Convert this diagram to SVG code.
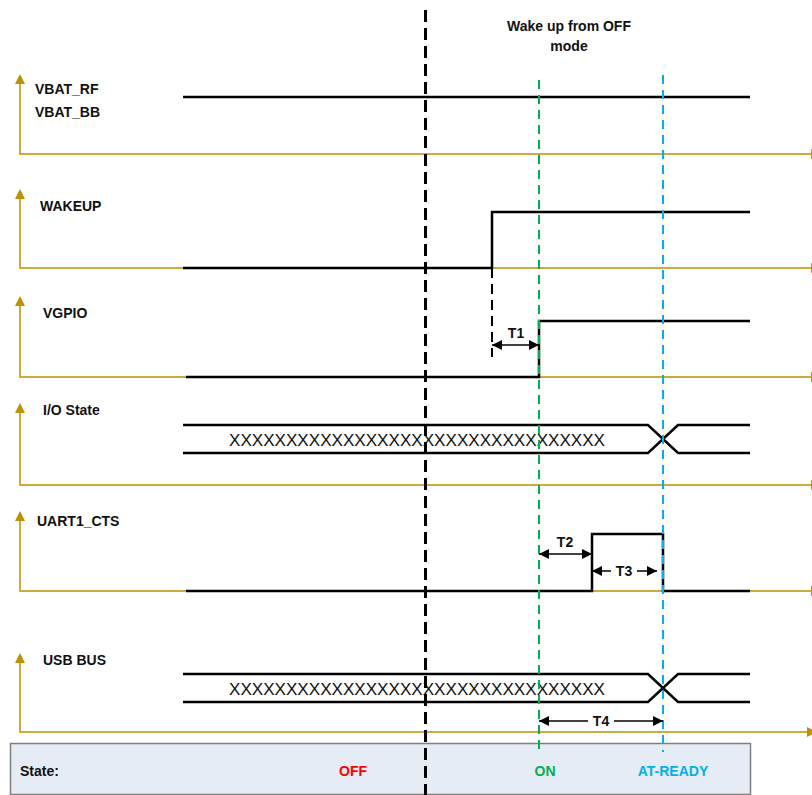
<svg xmlns="http://www.w3.org/2000/svg" width="812" height="795" viewBox="0 0 812 795">
<defs>
<style>
.ax{stroke:#BF9000;stroke-width:1.5;fill:none}
.sig{stroke:#000;stroke-width:2.5;fill:none;stroke-linejoin:miter}
.lbl{font-family:"Liberation Sans",Arial,sans-serif;font-weight:bold;font-size:14px;fill:#111}
.xx{font-family:"Liberation Sans",Arial,sans-serif;font-size:16px;fill:#111}
.tl{font-family:"Liberation Sans",Arial,sans-serif;font-weight:bold;font-size:14px;fill:#111;text-anchor:middle}
.dim{stroke:#000;stroke-width:1.5;fill:none}
</style>
<marker id="ag" markerWidth="10" markerHeight="10" refX="0" refY="5" orient="auto-start-reverse" markerUnits="userSpaceOnUse">
<path d="M0,0 L10,5 L0,10 Z" fill="#BF9000"/>
</marker>
<marker id="ah" markerWidth="10" markerHeight="10" refX="10" refY="5" orient="auto-start-reverse" markerUnits="userSpaceOnUse">
<path d="M0,0 L10,5 L0,10 Z" fill="#000"/>
</marker>
</defs>

<!-- State bar -->
<g id="state">
<rect x="10.5" y="743.5" width="740" height="51" fill="#E6ECF5" stroke="#7F7F7F" stroke-width="1.5"/>
<text class="lbl" x="20" y="776">State:</text>
<text class="tl" x="353" y="776" style="fill:#FF0000">OFF</text>
<text class="tl" x="545" y="776" style="fill:#00B050">ON</text>
<text class="tl" x="673" y="776" style="fill:#00B0F0">AT-READY</text>
</g>

<!-- Axes -->
<g id="axes">
<path class="ax" d="M20,84 V154 H811" marker-start="url(#ag)" marker-end="url(#ag)"/>
<path class="ax" d="M20,199 V268 H811" marker-start="url(#ag)" marker-end="url(#ag)"/>
<path class="ax" d="M20,306 V377 H811" marker-start="url(#ag)" marker-end="url(#ag)"/>
<path class="ax" d="M20,413 V485 H811" marker-start="url(#ag)" marker-end="url(#ag)"/>
<path class="ax" d="M20,521 V591 H811" marker-start="url(#ag)" marker-end="url(#ag)"/>
<path class="ax" d="M20,663 V732 H807" marker-start="url(#ag)" marker-end="url(#ag)"/>
</g>

<text class="tl" x="569" y="31">Wake up from OFF</text>
<text class="tl" x="569" y="51">mode</text>

<g id="vbat">
<text class="lbl" x="35" y="94">VBAT_RF</text>
<text class="lbl" x="35" y="117">VBAT_BB</text>
<path class="sig" d="M183,97 H750"/>
</g>

<g id="wakeup">
<text class="lbl" x="40" y="211">WAKEUP</text>
<path class="sig" d="M183,268 H492 V212 H750"/>
</g>

<g id="vgpio">
<text class="lbl" x="43" y="318">VGPIO</text>
<path class="sig" d="M186,377 H539 V321 H750"/>
</g>

<g id="io">
<text class="lbl" x="43" y="415">I/O State</text>
<path class="sig" d="M183,425 H648 L678,453 H750 M183,453 H648 L678,425 H750"/>
<text class="xx" x="229" y="446" textLength="376" lengthAdjust="spacingAndGlyphs">XXXXXXXXXXXXXXXXXXXXXXXXXXXXXXXXX</text>
</g>

<g id="uart">
<text class="lbl" x="37" y="526">UART1_CTS</text>
<path class="sig" d="M186,591 H592 V534 H663 V591 H750"/>
</g>

<g id="usb">
<text class="lbl" x="43" y="665">USB BUS</text>
<path class="sig" d="M183,674 H648 L678,702 H750 M183,702 H648 L678,674 H750"/>
<text class="xx" x="229" y="695" textLength="376" lengthAdjust="spacingAndGlyphs">XXXXXXXXXXXXXXXXXXXXXXXXXXXXXXXXX</text>
</g>

<!-- markers/timing lines -->
<g id="connectors">
<line x1="425.5" y1="10" x2="425.5" y2="795" stroke="#000" stroke-width="3" stroke-dasharray="12,6"/>
<line x1="539" y1="80" x2="539" y2="752" stroke="#00B050" stroke-width="2" stroke-dasharray="9,6"/>
<line x1="663" y1="75" x2="663" y2="752" stroke="#00B0F0" stroke-width="2" stroke-dasharray="9,6"/>
<line x1="492" y1="268" x2="492" y2="357" stroke="#000" stroke-width="2" stroke-dasharray="10,6"/>

<line class="dim" x1="492" y1="345" x2="539" y2="345" marker-start="url(#ah)" marker-end="url(#ah)"/>
<line class="dim" x1="539" y1="554" x2="592" y2="554" marker-start="url(#ah)" marker-end="url(#ah)"/>
<line class="dim" x1="592" y1="571" x2="611" y2="571" marker-start="url(#ah)"/>
<line class="dim" x1="637" y1="571" x2="657" y2="571" marker-end="url(#ah)"/>
<line class="dim" x1="539" y1="721" x2="588" y2="721" marker-start="url(#ah)"/>
<line class="dim" x1="614" y1="721" x2="663" y2="721" marker-end="url(#ah)"/>
</g>

<text class="tl" x="516" y="338">T1</text>
<text class="tl" x="565" y="547">T2</text>
<text class="tl" x="624" y="576">T3</text>
<text class="tl" x="601" y="726">T4</text>
</svg>
